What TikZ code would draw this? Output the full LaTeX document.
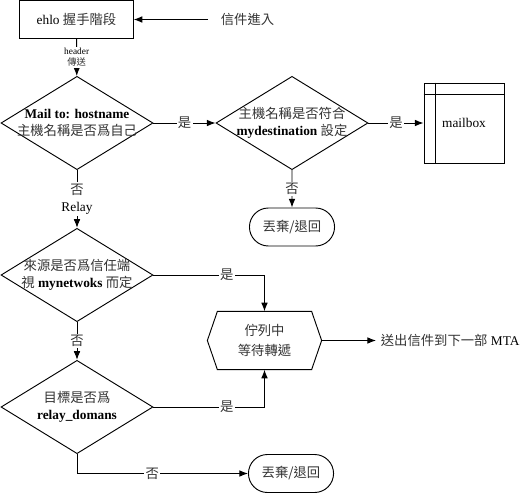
\documentclass[tikz,border=0pt]{standalone}
\usepackage{fontspec}
\setmainfont{Liberation Serif}
\newfontfamily\cjkfont{Noto Sans CJK TC}
\newcommand\cjk{\cjkfont\color{black!80}}
\usetikzlibrary{arrows.meta,calc,positioning,shapes.geometric,shapes.misc}

\begin{document}
\begin{tikzpicture}[x=0.75pt,y=-0.75pt,line width=0.7pt,
	font=\fontsize{10}{13}\selectfont,
	>={Latex[length=6.5pt,width=5pt]},
	stepbox/.style={draw,minimum width=85pt,minimum height=28pt},
	ask/.style={diamond,draw,minimum width=114pt,minimum height=70pt,inner sep=0pt},
	stop/.style={rounded rectangle,draw,minimum width=70.5pt,minimum height=28.5pt},
	lbl/.style={fill=white,inner sep=1pt}]
	\useasboundingbox (0,0) rectangle (525,493);
	% top row
	\node[stepbox] (ehlo) at (76.5,19.5) {ehlo {\cjk 握手階段}};
	\node[anchor=west] (entry) at (216,19.5) {\cjk 信件進入};
	\coordinate (inpt) at (208,19.5);
	% checks
	\node[ask,label={[align=center]center:{\textbf{Mail to: hostname}\\{\cjk 主機名稱是否爲自己}}}] (host) at (77,123) {};
	\node[ask,label={[align=center]center:{{\cjk 主機名稱是否符合}\\\textbf{mydestination} {\cjk 設定}}}] (dest) at (292,123) {};
	\node[ask,label={[align=center]center:{{\cjk 來源是否爲信任端}\\{\cjk 視} \textbf{mynetwoks} {\cjk 而定}}}] (trust) at (77,275) {};
	\node[ask,label={[align=center]center:{{\cjk 目標是否爲}\\\textbf{relay\_domans}}}] (relay) at (77,407) {};
	% ends
	\node[draw,minimum width=60pt,minimum height=60pt] (mbox) at (464,123) {mailbox};
	\draw ([xshift=9pt]mbox.north west) -- ([xshift=9pt]mbox.south west);
	\draw ([yshift=-9pt]mbox.north west) -- ([yshift=-9pt]mbox.north east);
	\node[stop] (drop1) at (292,227) {\cjk 丟棄/退回};
	\node[stop] (drop2) at (291,473.5) {\cjk 丟棄/退回};
	\node[minimum width=85pt,minimum height=43pt,align=center,font=\fontsize{10}{15}\selectfont] (queue) at (264.5,340.5) {{\cjk 佇列中}\\{\cjk 等待轉遞}};
	\draw ([xshift=7.5pt]queue.north west) -- ([xshift=-7.5pt]queue.north east) -- (queue.east)
		-- ([xshift=-7.5pt]queue.south east) -- ([xshift=7.5pt]queue.south west) -- (queue.west) -- cycle;
	\node[anchor=west] (next) at (376,340.5) {{\cjk 送出信件到下一部} MTA};
	% connectors
	\draw[->] (inpt) -- (ehlo.east);
	\draw[->] (ehlo) -- node[lbl,align=center,font=\fontsize{7}{8.5}\selectfont]{header\\{\cjk 傳送}} (host);
	\draw[->] (host) -- node[lbl]{\cjk 是} (dest);
	\draw[->] (dest) -- node[lbl]{\cjk 是} (mbox);
	\draw[->] (dest) -- node[lbl]{\cjk 否} (drop1);
	\draw[->] (host) -- node[lbl,align=center]{{\cjk 否}\\Relay} (trust);
	\draw[->] (trust.east) -| node[lbl,pos=.33]{\cjk 是} (queue.north);
	\draw[->] (trust) -- node[lbl]{\cjk 否} (relay);
	\draw[->] (relay.east) -| node[lbl,pos=.33]{\cjk 是} (queue.south);
	\draw[->] (relay.south) |- node[lbl,pos=.72]{\cjk 否} (drop2.west);
	\draw[->] (queue.east) -- (next.west);
\end{tikzpicture}
\end{document}
